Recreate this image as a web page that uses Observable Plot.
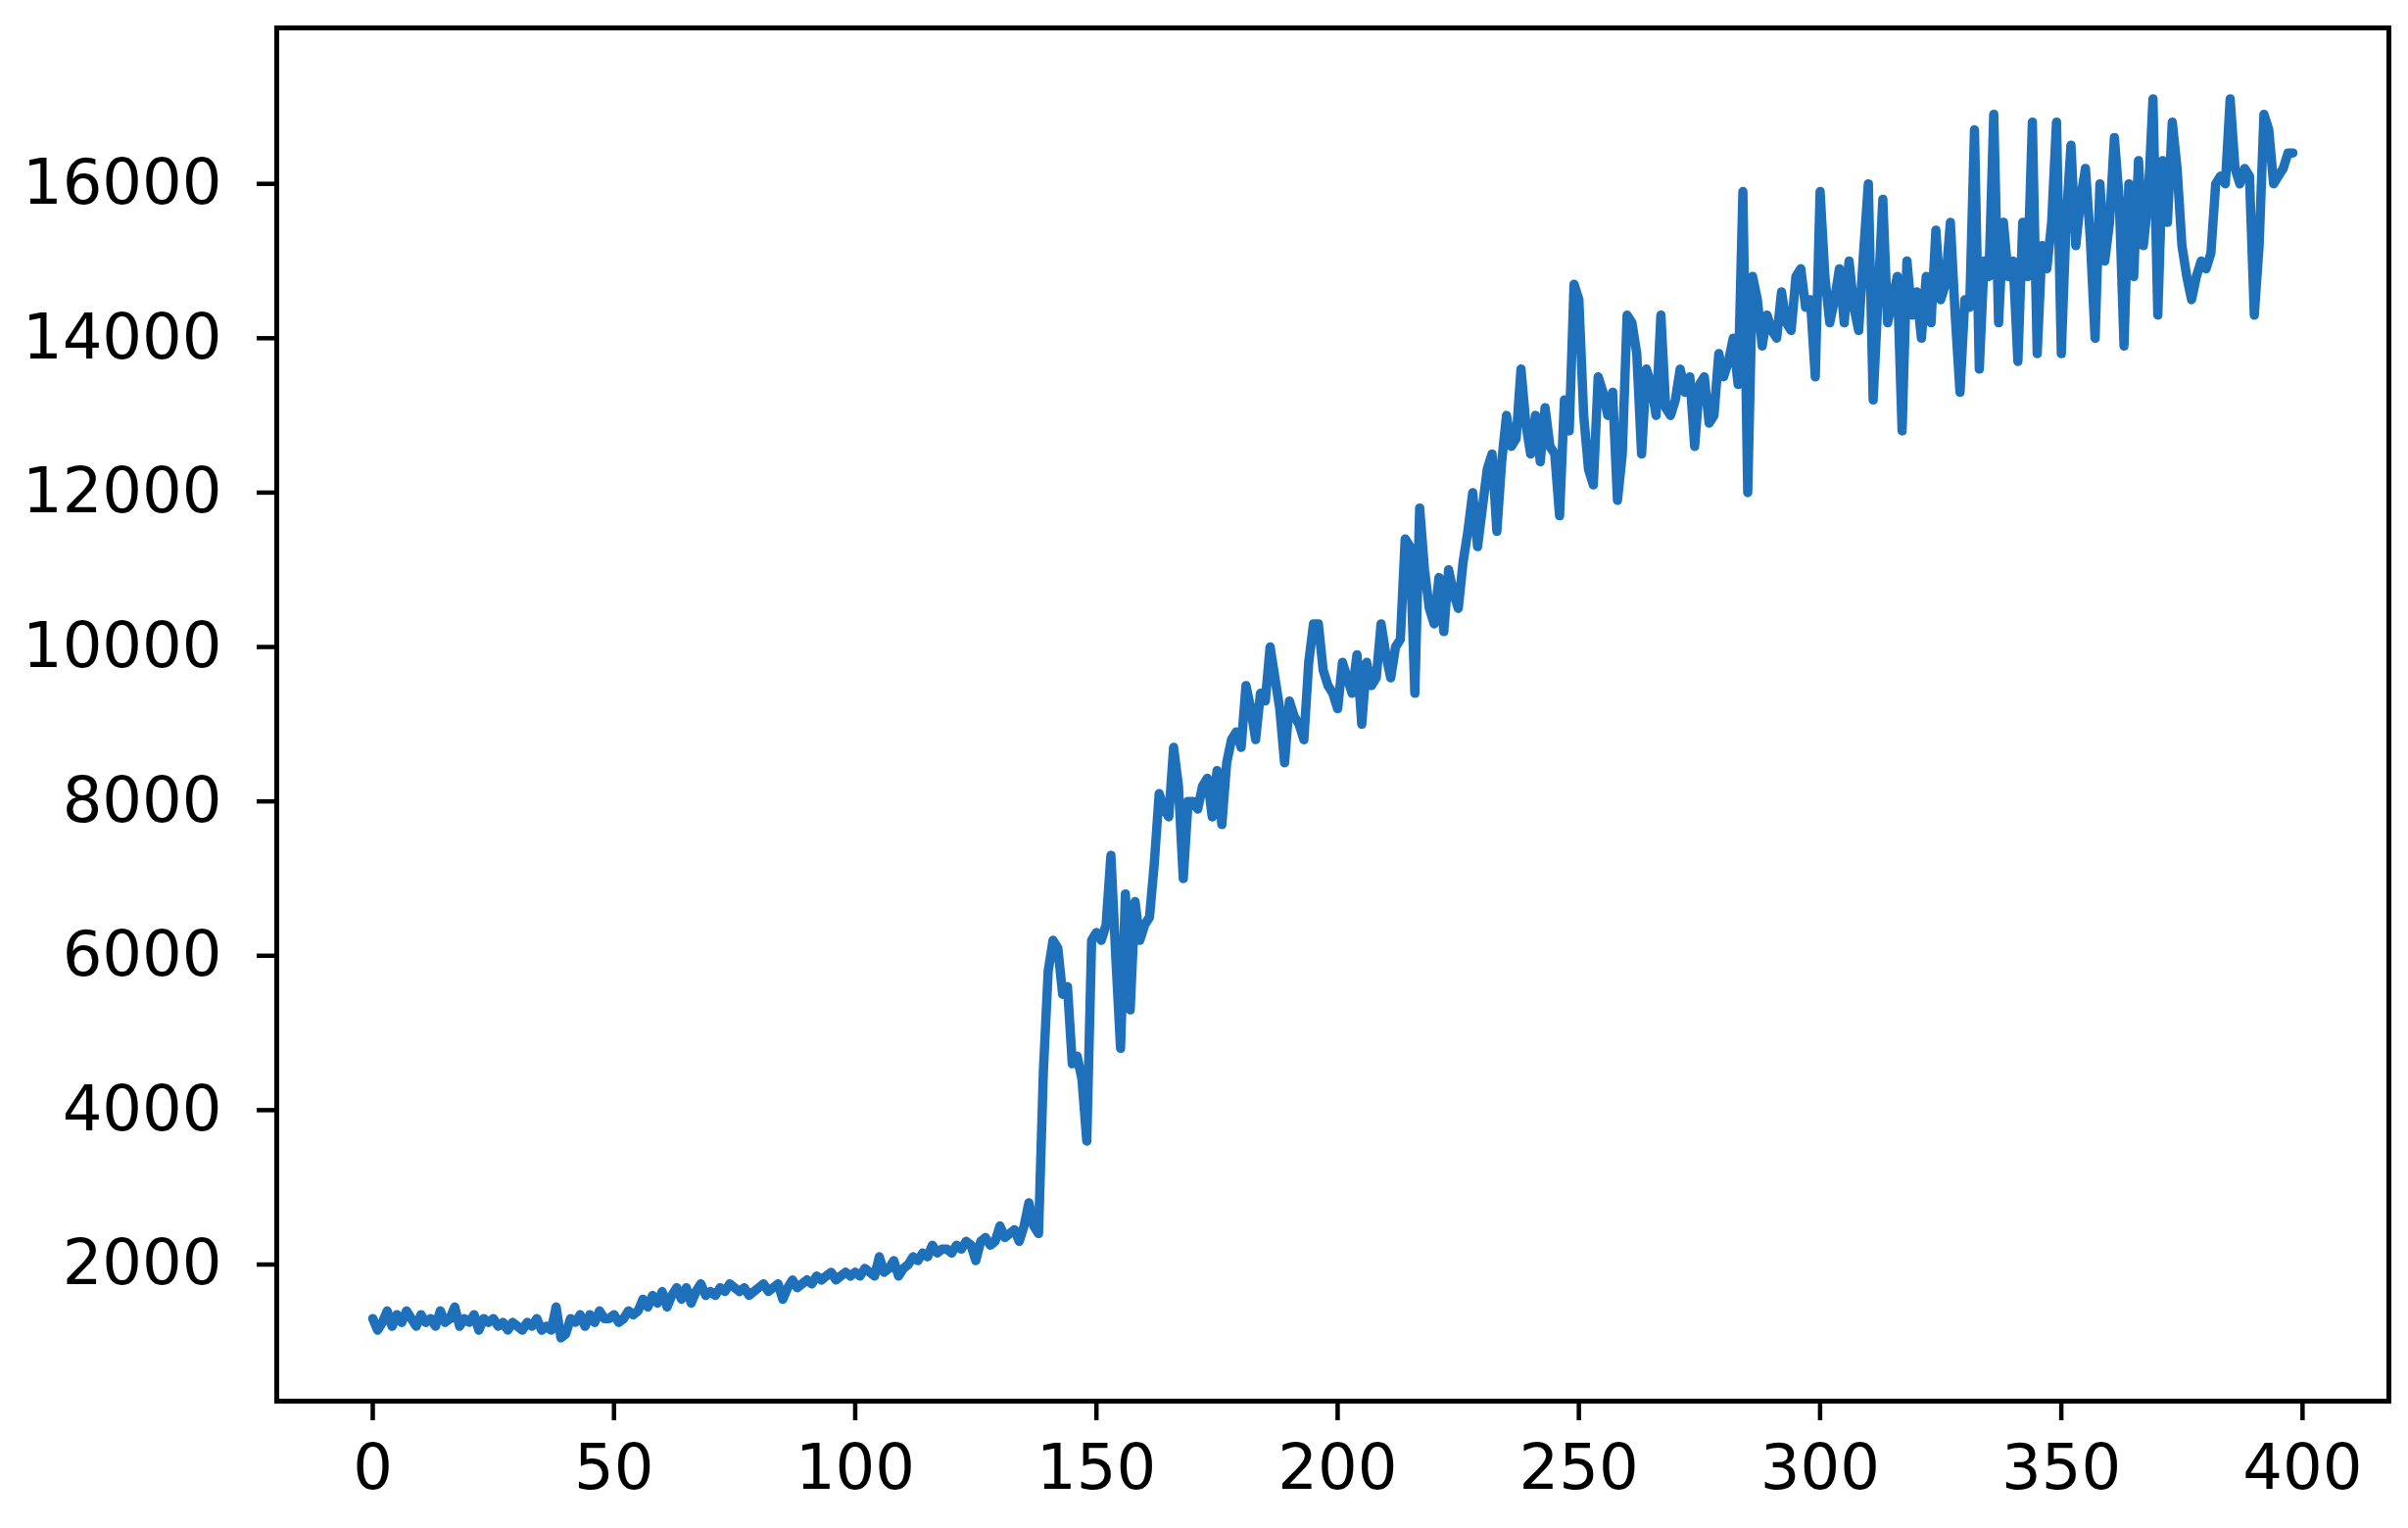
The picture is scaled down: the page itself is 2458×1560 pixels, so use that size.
<!DOCTYPE html>
<html>
<head>
<meta charset="utf-8">
<script src="https://cdn.jsdelivr.net/npm/d3@7"></script>
<script src="https://cdn.jsdelivr.net/npm/@observablehq/plot@0.6"></script>
<style>
  html, body { margin: 0; padding: 0; background: #ffffff; }
  #chart svg { display: block; }
</style>
</head>
<body>
<div id="chart"></div>
<script>
// Series values, one per step (x = 0 .. 398)
const values = [
  1300, 1150, 1250, 1400, 1200, 1350, 1250, 1400, 1300, 1200,
  1350, 1250, 1300, 1200, 1400, 1250, 1300, 1450, 1200, 1300,
  1250, 1350, 1150, 1300, 1250, 1300, 1200, 1250, 1150, 1250,
  1200, 1150, 1250, 1200, 1300, 1150, 1200, 1150, 1450, 1050,
  1100, 1300, 1250, 1350, 1200, 1350, 1250, 1400, 1300, 1300,
  1350, 1250, 1300, 1400, 1350, 1400, 1550, 1450, 1600, 1500,
  1650, 1450, 1600, 1700, 1550, 1700, 1500, 1650, 1750, 1600,
  1650, 1600, 1700, 1650, 1750, 1700, 1650, 1700, 1600, 1650,
  1700, 1750, 1650, 1700, 1750, 1550, 1700, 1800, 1700, 1750,
  1800, 1750, 1850, 1800, 1850, 1900, 1800, 1850, 1900, 1850,
  1900, 1850, 1950, 1900, 1850, 2100, 1900, 1950, 2050, 1850,
  1950, 2000, 2100, 2050, 2150, 2100, 2250, 2150, 2200, 2200,
  2150, 2250, 2200, 2300, 2250, 2050, 2300, 2350, 2250, 2300,
  2500, 2350, 2400, 2450, 2300, 2500, 2800, 2500, 2400, 4500,
  5800, 6200, 6100, 5500, 5600, 4600, 4700, 4400, 3600, 6200,
  6300, 6200, 6400, 7300, 6000, 4800, 6800, 5300, 6700, 6200,
  6400, 6500, 7200, 8100, 7900, 7800, 8700, 8200, 7000, 8000,
  8000, 7900, 8200, 8300, 7800, 8400, 7700, 8500, 8800, 8900,
  8700, 9500, 9200, 8800, 9400, 9300, 10000, 9600, 9200, 8500,
  9300, 9100, 9000, 8800, 9800, 10300, 10300, 9700, 9500, 9400,
  9200, 9800, 9600, 9400, 9900, 9000, 9800, 9500, 9600, 10300,
  9900, 9600, 10000, 10100, 11400, 11300, 9400, 11800, 11000, 10500,
  10300, 10900, 10200, 11000, 10700, 10500, 11100, 11500, 12000, 11300,
  11800, 12300, 12500, 11500, 12400, 13000, 12600, 12700, 13600, 12900,
  12500, 13000, 12400, 13100, 12600, 12500, 11700, 13200, 12800, 14700,
  14500, 13000, 12300, 12100, 13500, 13300, 13000, 13300, 11900, 12500,
  14300, 14200, 13800, 12500, 13600, 13400, 13000, 14300, 13100, 13000,
  13200, 13600, 13300, 13500, 12600, 13400, 13500, 12900, 13000, 13800,
  13500, 13700, 14000, 13400, 15900, 12000, 14800, 14500, 13900, 14300,
  14100, 14000, 14600, 14200, 14100, 14800, 14900, 14400, 14500, 13500,
  15900, 14800, 14200, 14500, 14900, 14200, 15000, 14400, 14100, 15100,
  16000, 13200, 14500, 15800, 14200, 14500, 14800, 12800, 15000, 14300,
  14600, 14000, 14800, 14200, 15400, 14500, 14700, 15500, 14300, 13300,
  14500, 14400, 16700, 13600, 15000, 14800, 16900, 14200, 15500, 14800,
  15000, 13700, 15500, 14800, 16800, 13800, 15200, 14900, 15500, 16800,
  13800, 15500, 16500, 15200, 15800, 16200, 15300, 14000, 16000, 15000,
  15500, 16600, 15800, 13900, 16000, 14800, 16300, 15200, 15800, 17100,
  14300, 16300, 15500, 16800, 16200, 15200, 14800, 14500, 14800, 15000,
  14900, 15100, 16000, 16100, 16000, 17100, 16200, 16000, 16200, 16100,
  14300, 15200, 16900, 16700, 16000, 16100, 16200, 16400, 16400
];
const steps = values.map((_, i) => i);
const xTicks = [0, 50, 100, 150, 200, 250, 300, 350, 400];
const yTicks = [2000, 4000, 6000, 8000, 10000, 12000, 14000, 16000];

const data = steps.map((s, i) => ({step: s, value: values[i]}));

const chart = Plot.plot({
  width: 2458,
  height: 1560,
  marginLeft: 282,
  marginRight: 20,
  marginTop: 28,
  marginBottom: 130,
  style: {fontFamily: "'DejaVu Sans', sans-serif", fontSize: "64px", color: "#000", background: "#fff"},
  x: {domain: [-19.9, 417.9], ticks: xTicks, tickFormat: d => String(d), tickSize: 20, tickPadding: 24, label: null},
  y: {domain: [230, 18020], ticks: yTicks, tickFormat: d => String(d), tickSize: 20, tickPadding: 36, label: null},
  marks: [
    Plot.line(data, {x: "step", y: "value", stroke: "#1e70bb", strokeWidth: 9.5, strokeLinejoin: "round", strokeLinecap: "round"}),
    Plot.frame({stroke: "#000", strokeWidth: 5}),
    Plot.axisX({ticks: xTicks, tickFormat: d => String(d), tickSize: 20, tickPadding: 24, strokeWidth: 4.5, fontSize: 64}),
    Plot.axisY({ticks: yTicks, tickFormat: d => String(d), tickSize: 20, tickPadding: 36, strokeWidth: 4.5, fontSize: 64})
  ]
});
document.getElementById("chart").appendChild(chart);
</script>
</body>
</html>
